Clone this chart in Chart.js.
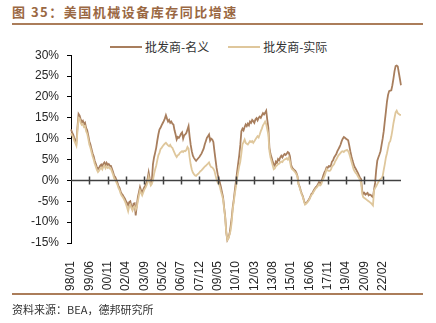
<!DOCTYPE html>
<html>
<head>
<meta charset="utf-8">
<script src="https://cdn.jsdelivr.net/npm/chart.js@4.4.0/dist/chart.umd.min.js"></script>
<style>
  html, body { margin: 0; padding: 0; background: #fff; }
  #wrap { position: relative; width: 436px; height: 323px; overflow: hidden; font-family: "Noto Sans CJK SC", sans-serif; }
  #title { position: absolute; left: 12px; top: 2px; font-size: 13px; font-weight: bold; color: #9a6843; letter-spacing: 1.5px; white-space: nowrap; }
  #titleLine { position: absolute; left: 12px; top: 23px; width: 411px; height: 2px; background: #ab7d5a; }
  #legend { position: absolute; left: 110px; top: 38px; display: flex; font-size: 12px; color: #333; white-space: nowrap; }
  .item { display: flex; align-items: center; margin-right: 19px; }
  .swatch { width: 32px; height: 2px; margin-right: 3px; }
  #chartBox { position: absolute; left: 0; top: 40px; width: 436px; height: 254px; }
  #footLine { position: absolute; left: 12px; top: 293px; width: 411px; height: 2px; background: #ab7d5a; }
  #source { position: absolute; left: 12px; top: 301px; font-size: 11px; color: #333; white-space: nowrap; }
</style>
</head>
<body>
<div id="wrap">
  <div id="title">图 35：美国机械设备库存同比增速</div>
  <div id="titleLine"></div>
  <div id="legend"></div>
  <div id="chartBox"><canvas id="chart"></canvas></div>
  <div id="footLine"></div>
  <div id="source">资料来源：BEA，德邦研究所</div>
</div>
<script>
// monthly YoY %, 1998/01 - 2023/07
const nominal = [
  12.2, 11.5, 11.0, 10.2, 9.6, 9.0, 12.8, 15.9, 15.5, 14.6, 14.0, 14.3,
  13.5, 13.8, 12.6, 12.0, 10.8, 9.4, 8.6, 7.5, 6.5, 5.8, 4.7, 4.0,
  3.2, 2.7, 3.0, 3.5, 3.8, 3.3, 4.0, 4.3, 3.6, 4.2, 3.7, 3.9,
  3.5, 3.5, 2.8, 2.0, 1.1, 0.8, 0.2, -0.5, -1.3, -1.8, -2.6, -3.2,
  -3.5, -4.0, -4.4, -5.0, -5.4, -6.0, -5.2, -5.0, -6.2, -6.8, -5.6, -5.5,
  -8.4, -6.0, -4.0, -2.8, -1.6, -2.4, -3.0, -2.2, -1.6, -1.2, -0.5, 0.3,
  1.9, 0.4, -0.5, 0.0, 3.9, 5.5, 6.6, 7.8, 9.5, 11.0, 12.2, 12.6,
  13.2, 13.7, 14.2, 14.8, 15.6, 14.8, 14.1, 14.5, 13.8, 14.1, 13.6, 13.4,
  12.0, 11.0, 9.8, 10.4, 10.2, 10.6, 11.2, 11.5, 10.0, 10.8, 11.0, 11.4,
  12.2, 13.0, 10.5, 8.5, 7.0, 5.9, 5.4, 5.0, 4.7, 5.0, 5.3, 5.6,
  6.0, 6.4, 7.0, 7.6, 8.6, 9.4, 10.2, 10.6, 11.0, 9.5, 10.0, 9.8,
  9.2, 7.0, 5.0, 3.0, 1.5, 0.5, -0.5, -1.6, -2.8, -4.0, -6.5, -8.8,
  -12.5, -14.3, -13.8, -12.8, -11.0, -9.0, -6.4, -4.5, -2.2, -0.1, 2.0, 4.0,
  6.0, 8.5, 11.8, 12.4, 12.0, 12.8, 13.4, 13.0, 13.6, 13.2, 14.1, 13.8,
  14.5, 14.2, 13.8, 14.6, 14.9, 14.4, 15.0, 15.3, 15.0, 15.6, 16.1, 15.8,
  16.2, 16.7, 14.5, 12.6, 7.8, 6.3, 5.5, 4.5, 3.8, 3.5, 4.5, 4.2,
  5.1, 4.8, 5.5, 5.9, 5.5, 6.0, 6.3, 6.1, 6.4, 6.8, 6.6, 5.8,
  3.8, 3.1, 2.8, 2.5, 2.3, 1.8, 1.0, -0.9, -1.5, -2.4, -3.2, -3.8,
  -4.8, -5.6, -5.4, -5.2, -4.8, -4.4, -3.8, -3.2, -3.0, -2.4, -2.0, -1.6,
  -1.4, -0.9, -0.4, -0.7, -0.5, 0.4, 1.2, 1.9, 2.4, 3.1, 3.0, 3.4,
  3.3, 3.6, 4.5, 4.8, 5.5, 5.9, 6.3, 7.0, 7.5, 8.0, 8.6, 9.4,
  10.0, 10.4, 10.2, 10.0, 9.8, 9.6, 8.4, 7.0, 5.8, 4.8, 3.9, 3.2,
  2.8, 2.3, 1.8, 1.2, 0.6, 0.3, -2.4, -3.2, -3.0, -3.4, -3.2, -3.0,
  -3.6, -3.4, -3.5, -3.8, -4.0, -2.2, -0.6, 2.5, 4.7, 5.5, 6.2, 7.0,
  8.5, 10.0, 11.8, 14.2, 16.5, 18.9, 20.5, 21.4, 21.5, 21.6, 22.8, 24.4,
  26.2, 27.4, 27.5, 27.3, 25.8, 24.3, 22.8
];
const actual = [
  11.3, 10.8, 10.3, 9.5, 8.9, 8.3, 11.8, 15.0, 14.8, 13.8, 13.3, 13.5,
  12.8, 13.0, 11.8, 11.2, 10.0, 8.6, 7.8, 6.8, 5.8, 5.0, 4.0, 3.3,
  2.5, 2.0, 2.3, 2.8, 3.0, 2.6, 3.3, 3.6, 2.9, 3.4, 3.0, 3.2,
  2.8, 2.8, 2.1, 1.4, 0.5, 0.2, -0.4, -1.0, -1.8, -2.3, -3.1, -3.7,
  -4.0, -4.5, -5.0, -5.7, -6.5, -7.4, -6.2, -5.8, -6.6, -7.2, -6.4, -6.2,
  -7.0, -6.4, -5.0, -3.6, -2.4, -3.0, -3.6, -2.9, -2.2, -1.8, -1.2, -0.5,
  0.8, -0.4, -1.2, -0.8, 0.0, 1.5, 2.6, 3.5, 4.8, 6.0, 6.6, 7.5,
  7.8, 8.2, 8.5, 8.8, 9.0, 8.7, 8.4, 8.2, 8.5, 8.0, 7.8, 7.2,
  6.6, 6.0, 5.6, 6.0, 6.2, 6.6, 6.8, 7.0, 6.8, 7.1, 7.0, 7.3,
  8.0, 7.6, 5.5, 3.8, 2.6, 1.9, 1.5, 1.2, 1.1, 1.4, 1.6, 1.9,
  2.2, 2.4, 2.7, 3.0, 3.3, 3.5, 3.8, 4.0, 4.3, 3.6, 3.2, 3.1,
  2.8, 2.3, 1.2, 0.2, -0.5, -0.8, -1.5, -2.6, -3.5, -4.5, -6.8, -9.0,
  -12.6, -14.3, -13.9, -13.0, -12.0, -10.0, -6.8, -5.0, -3.0, -1.5, 0.5, 2.0,
  3.4, 4.5, 6.5, 8.6, 9.2, 9.8, 9.0, 8.8, 8.6, 9.0, 9.4, 9.2,
  9.4, 9.0, 9.4, 9.8, 10.2, 10.6, 10.3, 11.0, 11.8, 12.4, 13.2, 13.6,
  14.1, 13.5, 12.2, 11.0, 7.0, 5.5, 4.6, 3.6, 2.7, 2.9, 3.4, 3.6,
  3.9, 4.0, 4.3, 4.5, 4.4, 4.8, 5.0, 5.1, 5.3, 5.0, 5.5, 4.6,
  3.2, 2.7, 2.5, 2.2, 1.9, 1.5, 0.8, -0.9, -1.7, -2.6, -3.4, -4.0,
  -5.0, -5.8, -5.6, -5.3, -5.0, -4.6, -4.0, -3.5, -3.2, -2.7, -2.3, -1.9,
  -1.7, -1.3, -0.9, -1.2, -1.0, -0.2, 0.4, 1.0, 1.8, 2.7, 2.4, 2.3,
  2.3, 2.6, 3.3, 3.6, 3.9, 4.6, 5.0, 5.5, 6.0, 6.3, 6.6, 6.9,
  7.0, 6.8, 7.1, 7.2, 7.3, 7.0, 6.4, 5.5, 4.5, 3.6, 2.7, 2.2,
  1.8, 1.5, 1.0, 0.6, 0.0, -0.5, -3.2, -4.0, -4.2, -4.4, -4.6, -4.8,
  -5.0, -5.2, -5.4, -5.7, -6.0, -2.4, -1.8, -1.4, -0.9, -0.4, 0.0, 0.3,
  0.5, 1.0, 2.5, 3.9, 5.5, 6.5, 7.8, 9.0, 9.4, 10.5, 12.0, 13.7,
  15.0, 16.3, 16.7, 16.1, 15.9, 15.7, 15.7
];
const tickLabels = ['98/01', '99/06', '00/11', '02/04', '03/09', '05/02', '06/07', '07/12', '09/05',
  '10/10', '12/03', '13/08', '15/01', '16/06', '17/11', '19/04', '20/09', '22/02'];

const categories = [];
for (let i = 0; i < nominal.length; i++) {
    const yr = 1998 + Math.floor(i / 12), mo = i % 12 + 1;
    categories.push(String(yr % 100).padStart(2, '0') + '/' + String(mo).padStart(2, '0'));
}

// horizontal axis drawn at 0% with tick marks crossing it
const zeroAxis = {
    id: 'zeroAxis',
    afterDatasetsDraw(chart) {
        const {ctx, chartArea, scales: {x, y}} = chart;
        const y0 = Math.round(y.getPixelForValue(0)) + 0.5;
        ctx.save();
        ctx.strokeStyle = '#404040';
        ctx.lineWidth = 1.5;
        ctx.beginPath();
        ctx.moveTo(chartArea.left, y0);
        ctx.lineTo(chartArea.right, y0);
        tickLabels.slice(1).forEach(t => {
            const px = Math.round(x.getPixelForValue(categories.indexOf(t))) + 0.5;
            ctx.moveTo(px, y0 - 4);
            ctx.lineTo(px, y0 + 4);
        });
        ctx.stroke();
        ctx.restore();
    }
};

const chart = new Chart(document.getElementById('chart').getContext('2d'), {
    type: 'line',
    data: {
        labels: categories,
        datasets: [
            { label: '批发商-名义', data: nominal, borderColor: '#a87e5d', borderWidth: 1.8, order: 2 },
            { label: '批发商-实际', data: actual, borderColor: '#dfc79c', borderWidth: 1.8, order: 1 }
        ]
    },
    options: {
        responsive: true,
        maintainAspectRatio: false,
        animation: false,
        layout: { padding: { left: 31, right: 35, top: 6, bottom: 0 } },
        elements: { point: { radius: 0 }, line: { tension: 0 } },
        plugins: { legend: { display: false }, tooltip: { enabled: false } },
        scales: {
            x: {
                type: 'category',
                offset: false,
                grid: { display: false },
                border: { display: false },
                afterFit: s => { s.height = 51; },
                ticks: {
                    autoSkip: false,
                    minRotation: 90,
                    maxRotation: 90,
                    padding: 10,
                    color: '#262626',
                    font: { family: 'Liberation Sans, Arial', size: 12 },
                    callback: function(v) {
                        const lbl = this.getLabelForValue(v);
                        return tickLabels.includes(lbl) ? lbl : null;
                    }
                }
            },
            y: {
                min: -15,
                max: 30,
                afterFit: s => { s.width = 40; },
                grid: { drawOnChartArea: false, drawTicks: true, tickLength: 4, color: '#000' },
                border: { display: true, color: '#000', width: 1 },
                ticks: {
                    stepSize: 5,
                    padding: 8,
                    color: '#262626',
                    font: { family: 'Liberation Sans, Arial', size: 12 },
                    callback: v => v + '%'
                }
            }
        }
    },
    plugins: [zeroAxis]
});

// legend built from the chart's datasets
const legendEl = document.getElementById('legend');
chart.data.datasets.forEach(ds => {
    const item = document.createElement('div');
    item.className = 'item';
    item.innerHTML = `<span class="swatch" style="background:${ds.borderColor}"></span><span>${ds.label}</span>`;
    legendEl.appendChild(item);
});
</script>
</body>
</html>
